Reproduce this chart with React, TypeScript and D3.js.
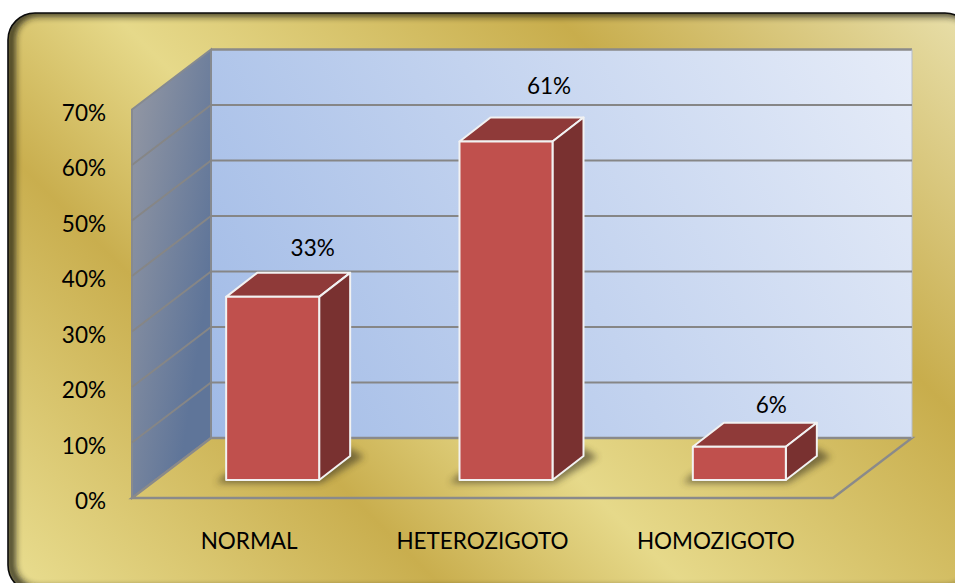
import React from "react";
import * as d3 from "d3";

const categories = ["NORMAL", "HETEROZIGOTO", "HOMOZIGOTO"];
const values = [33, 61, 6];
const valueLabels = ["33%", "61%", "6%"];
const ticks = [0, 10, 20, 30, 40, 50, 60, 70];

const W = 955, H = 583;
const FRONT_X = 132, FRONT_RIGHT = 833, FRONT_Y0 = 498;
const DX = 79, DY = 60;
const BAR_BASE = 480, BAR_W = 93, BDX = 31, BDY = 24;
const FONT = "Lato, Carlito, sans-serif";
const LABEL_NUDGE_X = [40, 43, 32];
const LABEL_NUDGE_Y = [41, 47, 34];

export default function App() {
  const h = d3.scaleLinear().domain([0, 70]).range([0, 388.5]);
  const x = d3.scaleBand<string>().domain(categories).range([156, 856]);
  const goldStops: [number, string][] = [
    [-560, "#E8DC8E"], [-145, "#C9AE4E"], [100, "#E6D98A"], [540, "#C8AD4C"], [950, "#E8DFAA"],
  ];
  const toOffset = d3.scaleLinear().domain([-560, 950]).range([0, 1]);
  const top = FRONT_Y0 - h(70);
  const pts = (a: number[][]) => a.map((p) => p.join(",")).join(" ");

  return (
    <svg width={W} height={H} style={{ position: "absolute", left: 0, top: 0, background: "#fff" }} fontFamily={FONT}>
      <defs>
        <linearGradient id="gold" gradientUnits="userSpaceOnUse" x1={105} y1={665} x2={860} y2={-90}>
          {goldStops.map(([s, c]) => <stop key={s} offset={toOffset(s)} stopColor={c} />)}
        </linearGradient>
        <linearGradient id="wall" gradientUnits="userSpaceOnUse" x1={211} y1={438} x2={912} y2={49}>
          <stop offset="0" stopColor="#A0BAE6" />
          <stop offset="1" stopColor="#E6ECF8" />
        </linearGradient>
        <linearGradient id="side" gradientUnits="userSpaceOnUse" x1={132} y1={110} x2={232} y2={125}>
          <stop offset="0" stopColor="#9196A3" />
          <stop offset="1" stopColor="#5F7599" />
        </linearGradient>
        <filter id="blur" x="-30%" y="-30%" width="160%" height="160%">
          <feGaussianBlur stdDeviation="3.5" />
        </filter>
        <filter id="inner" x="-5%" y="-5%" width="110%" height="110%">
          <feGaussianBlur stdDeviation="3.5" />
        </filter>
        <clipPath id="frame"><rect x={8} y={13} width={964} height={579} rx={27} /></clipPath>
      </defs>

      <rect x={8} y={13} width={964} height={579} rx={27} fill="url(#gold)" />
      <g clipPath="url(#frame)">
        <rect x={8} y={13} width={964} height={579} rx={27} fill="none" stroke="#1c1c14" strokeWidth={8}
          filter="url(#inner)" opacity={0.9} transform="translate(3,-1)" />
      </g>
      <rect x={8} y={13} width={964} height={579} rx={27} fill="none" stroke="#0a0a0a" strokeWidth={1.6} />

      {/* walls */}
      <polygon points={pts([[FRONT_X + DX, FRONT_Y0 - DY - h(70)], [FRONT_RIGHT + DX, FRONT_Y0 - DY - h(70)], [FRONT_RIGHT + DX, FRONT_Y0 - DY], [FRONT_X + DX, FRONT_Y0 - DY]])}
        fill="url(#wall)" />
      <polygon points={pts([[FRONT_X, top], [FRONT_X + DX, top - DY], [FRONT_X + DX, FRONT_Y0 - DY], [FRONT_X, FRONT_Y0]])}
        fill="url(#side)" stroke="#868a90" strokeWidth={2} />
      <polygon points={pts([[FRONT_X, FRONT_Y0], [FRONT_X + DX, FRONT_Y0 - DY], [FRONT_RIGHT + DX, FRONT_Y0 - DY], [FRONT_RIGHT, FRONT_Y0]])}
        fill="url(#gold)" stroke="#8a8a8a" strokeWidth={2.4} />
      <line x1={FRONT_X + DX} x2={FRONT_RIGHT + DX} y1={top - DY} y2={top - DY} stroke="#8a8a8a" strokeWidth={2.4} />
      <line x1={FRONT_RIGHT + DX} x2={FRONT_RIGHT + DX} y1={top - DY} y2={FRONT_Y0 - DY} stroke="#b4bccb" strokeWidth={1} />

      {/* gridlines */}
      {ticks.slice(1, -1).map((t) => (
        <polyline key={t} fill="none" stroke="#868686" strokeWidth={2}
          points={pts([[FRONT_X, FRONT_Y0 - h(t)], [FRONT_X + DX, FRONT_Y0 - DY - h(t)], [FRONT_RIGHT + DX, FRONT_Y0 - DY - h(t)]])} />
      ))}
      {ticks.map((t) => (
        <text key={t} x={106} y={FRONT_Y0 - h(t) + 11} textAnchor="end" fontSize={22.5} fill="#000">{t}%</text>
      ))}

      {/* bars */}
      {categories.map((c, i) => {
        const cx = x(c)! + x.bandwidth() / 2;
        const x0 = cx - BAR_W / 2;
        const x1 = x0 + BAR_W;
        const yT = BAR_BASE - h(values[i]);
        const line = { stroke: "#F2F2F2", strokeWidth: 2, strokeLinejoin: "round" as const };
        return (
          <g key={c}>
            <polygon points={pts([[x0 - 10, BAR_BASE + 3], [x1 + 2, BAR_BASE + 3], [x1 + BDX + 14, BAR_BASE - BDY + 1], [x1 + BDX, BAR_BASE - BDY - 8], [x0, BAR_BASE - 6]])}
              fill="#3a3520" opacity={0.6} filter="url(#blur)" />
            <polygon points={pts([[x0, yT], [x0 + BDX, yT - BDY], [x1 + BDX, yT - BDY], [x1, yT]])} fill="#8F3A39" {...line} />
            <polygon points={pts([[x1, yT], [x1 + BDX, yT - BDY], [x1 + BDX, BAR_BASE - BDY], [x1, BAR_BASE]])} fill="#793130" {...line} />
            <rect x={x0} y={yT} width={BAR_W} height={h(values[i])} fill="#C0504D" {...line} />
            <text x={cx + LABEL_NUDGE_X[i]} y={yT - LABEL_NUDGE_Y[i]} textAnchor="middle" fontSize={22.5} fill="#000">{valueLabels[i]}</text>
            <text x={cx - 23.5} y={549} textAnchor="middle" fontSize={22.5} fill="#000">{c}</text>
          </g>
        );
      })}
    </svg>
  );
}
